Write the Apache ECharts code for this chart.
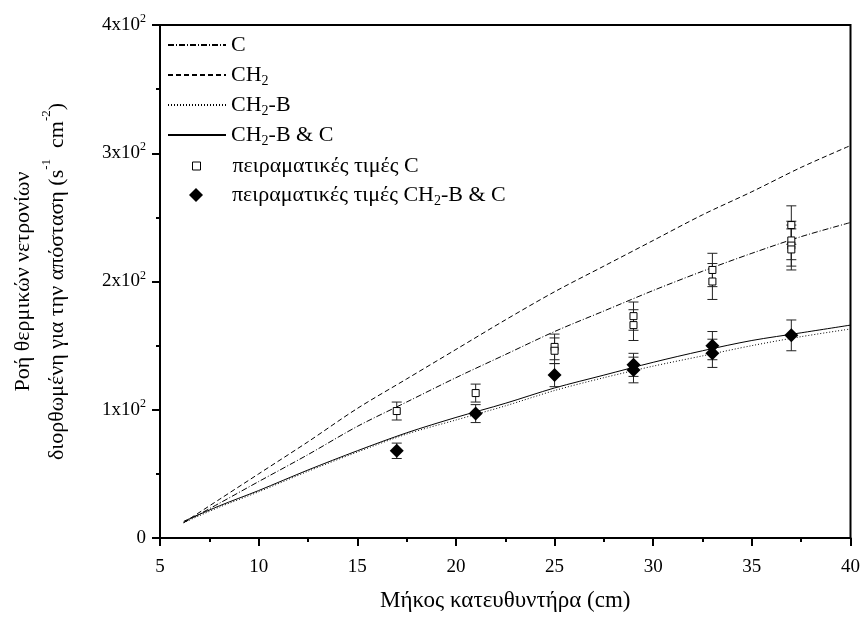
<!DOCTYPE html>
<html lang="el">
<head>
    <meta charset="UTF-8">
    <title>Ροή θερμικών νετρονίων</title>
    <style>
      * { padding: 0; margin: 0; }
      body { background: #fff; }
    </style>
</head>
<body>
    <div id="main" style="width: 863px;height:617px;"></div>
    <script src="https://cdn.jsdelivr.net/npm/echarts/dist/echarts.min.js"></script>
    <script>
        // υπολογισμένες καμπύλες (x σε cm)
        var curveX = [6.2, 8, 10, 12.5, 15, 17.5, 20, 22.5, 25, 27.5, 30, 32.5, 35, 37.5, 40];
        var curveC = [12, 27, 44, 65, 87, 106, 125, 143, 161, 177, 193, 208, 222, 235, 246];
        var curveCH2 = [12, 30, 50, 75, 101, 124, 147, 170, 192, 212, 232, 252, 270, 289, 306];
        var curveCH2B = [12, 24, 36, 52, 67, 81, 92, 103, 115, 125, 134, 142, 150, 157, 163];
        var curveCH2BC = [13, 25, 37, 53, 68, 82, 94, 105, 117, 127, 137, 146, 154, 160, 166];

        // πειραματικές τιμές C
        var expCx = [17, 21, 25, 25, 29, 29, 33, 33, 37, 37, 37, 37];
        var expCy = [99, 113, 149, 146, 173, 166, 209, 200, 244, 232, 228, 225];
        var expCerr = [7, 7, 10, 10, 11, 12, 13, 14, 15, 15, 16, 16];

        // πειραματικές τιμές CH2-B & C
        var expBx = [17, 21, 25, 29, 29, 33, 33, 37];
        var expBy = [68, 97, 127, 135, 131, 150, 144, 158];
        var expBerr = [6, 7, 9, 9, 10, 11, 11, 12];

        var yTicks = ['0', '1x10^2', '2x10^2', '3x10^2', '4x10^2'];

        var font = 'Liberation Serif';

        function pairs(xs, ys) {
            return xs.map(function (x, i) { return [x, ys[i]]; });
        }
        function triples(xs, ys, es) {
            return xs.map(function (x, i) { return [x, ys[i], es[i]]; });
        }
        // "CH2" -> δείκτης, το πρώτο κομμάτι με στυλ "first" (για μετατόπιση)
        function subName(name, first) {
            var parts = name.split('2');
            return '{' + first + '|' + parts[0] + '}' +
                parts.slice(1).map(function (p) { return '{s|2}{n|' + p + '}'; }).join('');
        }

        function lineSeries(name, data, type) {
            return {
                name: name,
                type: 'line',
                data: pairs(curveX, data),
                symbol: 'none',
                smooth: 0.3,
                silent: true,
                lineStyle: { color: '#000', width: 1, type: type },
                itemStyle: { color: '#000' },
                z: 2
            };
        }

        function errorSeries(data) {
            return {
                type: 'custom',
                silent: true,
                data: data,
                encode: { x: 0, y: 1 },
                z: 3,
                renderItem: function (params, api) {
                    var x = api.value(0), y = api.value(1), e = api.value(2);
                    var top = api.coord([x, y + e]);
                    var bot = api.coord([x, y - e]);
                    var w = 5;
                    var st = { stroke: '#222', lineWidth: 1 };
                    return {
                        type: 'group',
                        children: [
                            { type: 'line', shape: { x1: top[0], y1: top[1], x2: bot[0], y2: bot[1] }, style: st },
                            { type: 'line', shape: { x1: top[0] - w, y1: top[1], x2: top[0] + w, y2: top[1] }, style: st },
                            { type: 'line', shape: { x1: bot[0] - w, y1: bot[1], x2: bot[0] + w, y2: bot[1] }, style: st }
                        ]
                    };
                }
            };
        }

        var legendRich = {
            n: { fontFamily: font, fontSize: 22, lineHeight: 26, color: '#000' },
            f0: { fontFamily: font, fontSize: 22, lineHeight: 26, color: '#000' },
            f1: { fontFamily: font, fontSize: 22, lineHeight: 26, color: '#000', padding: [0, 0, 0, 27] },
            f2: { fontFamily: font, fontSize: 22, lineHeight: 26, color: '#000', padding: [0, 0, 0, 24] },
            s: { fontFamily: font, fontSize: 14, lineHeight: 14, verticalAlign: 'bottom', color: '#000' }
        };
        // w/h: μέγεθος εικονιδίου, left: αρχή εικονιδίου, f: στυλ πρώτου κομματιού
        var legendRows = [
            { name: 'C', y: 47, left: 167, w: 58, h: 14, f: 'f0', line: true },
            { name: 'CH2', y: 77, left: 167, w: 58, h: 14, f: 'f0', line: true },
            { name: 'CH2-B', y: 107, left: 167, w: 58, h: 14, f: 'f0', line: true },
            { name: 'CH2-B & C', y: 137, left: 167, w: 58, h: 14, f: 'f0', line: true },
            { name: 'πειραματικές τιμές C', y: 168, left: 192, w: 8, h: 8, f: 'f1' },
            { name: 'πειραματικές τιμές CH2-B & C', y: 197, left: 189, w: 14, h: 14, f: 'f2' }
        ];
        var legends = legendRows.map(function (r) {
            var lg = {
                data: [r.name],
                left: r.left,
                top: r.y - 13,
                padding: 0,
                itemWidth: r.w,
                itemHeight: r.h,
                selectedMode: false,
                formatter: function (name) { return subName(name, r.f); },
                textStyle: { rich: legendRich },
                itemStyle: { borderWidth: 1 }
            };
            if (r.line) {
                lg.itemStyle = { opacity: 0 }; // χωρίς κύκλο στο εικονίδιο γραμμής
            }
            return lg;
        });

        option = {
            animation: false,
            backgroundColor: '#fff',
            legend: legends,
            grid: {
                left: 160,
                right: 11,
                top: 25,
                bottom: 78,
                show: true,
                borderColor: '#000',
                borderWidth: 2
            },
            xAxis: {
                type: 'value',
                min: 5,
                max: 40,
                interval: 5,
                name: 'Μήκος κατευθυντήρα (cm)',
                nameLocation: 'middle',
                nameGap: 51,
                nameTextStyle: { fontFamily: font, fontSize: 23, color: '#000' },
                axisLine: { lineStyle: { color: '#000', width: 2 } },
                axisTick: { length: 8, lineStyle: { color: '#000', width: 2 } },
                minorTick: { show: true, splitNumber: 2, length: 4, lineStyle: { color: '#000', width: 2 } },
                splitLine: { show: false },
                axisLabel: { fontFamily: font, fontSize: 19, color: '#000', margin: 20 }
            },
            yAxis: {
                type: 'value',
                min: 0,
                max: 400,
                interval: 100,
                name: '{t|Ροή θερμικών νετρονίων}\n{t|διορθωμένη για την απόσταση (s}{p|-1}{t|  cm}{p|-2}{t|)}',
                nameLocation: 'middle',
                nameRotate: 90,
                nameGap: 86,
                nameTextStyle: {
                    rich: {
                        t: { fontFamily: font, fontSize: 22, lineHeight: 34, color: '#000' },
                        p: { fontFamily: font, fontSize: 13, lineHeight: 26, verticalAlign: 'top', color: '#000' }
                    }
                },
                axisLine: { lineStyle: { color: '#000', width: 2 } },
                axisTick: { length: 8, lineStyle: { color: '#000', width: 2 } },
                minorTick: { show: true, splitNumber: 2, length: 4, lineStyle: { color: '#000', width: 2 } },
                splitLine: { show: false },
                axisLabel: {
                    margin: 14,
                    formatter: function (v) {
                        var t = yTicks[Math.round(v / 100)].split('^');
                        return t.length > 1 ? '{a|' + t[0] + '}{b|' + t[1] + '}' : '{a|' + t[0] + '}';
                    },
                    rich: {
                        a: { fontFamily: font, fontSize: 19, lineHeight: 24, color: '#000' },
                        b: { fontFamily: font, fontSize: 12, lineHeight: 16, verticalAlign: 'top', color: '#000' }
                    }
                }
            },
            series: [
                lineSeries('C', curveC, [6, 2, 1, 2]),
                lineSeries('CH2', curveCH2, [5, 3]),
                lineSeries('CH2-B', curveCH2B, [1, 2]),
                lineSeries('CH2-B & C', curveCH2BC, 'solid'),
                errorSeries(triples(expCx, expCy, expCerr)),
                errorSeries(triples(expBx, expBy, expBerr)),
                {
                    name: 'πειραματικές τιμές C',
                    type: 'scatter',
                    data: pairs(expCx, expCy),
                    symbol: 'rect',
                    symbolSize: 7,
                    itemStyle: { color: '#fff', borderColor: '#000', borderWidth: 1, opacity: 1 },
                    z: 4
                },
                {
                    name: 'πειραματικές τιμές CH2-B & C',
                    type: 'scatter',
                    data: pairs(expBx, expBy),
                    symbol: 'diamond',
                    symbolSize: 14,
                    itemStyle: { color: '#000', opacity: 1 },
                    z: 4
                }
            ]
        };

        var myChart = echarts.init(document.getElementById('main'));
        myChart.setOption(option);
    </script>
</body>
</html>
